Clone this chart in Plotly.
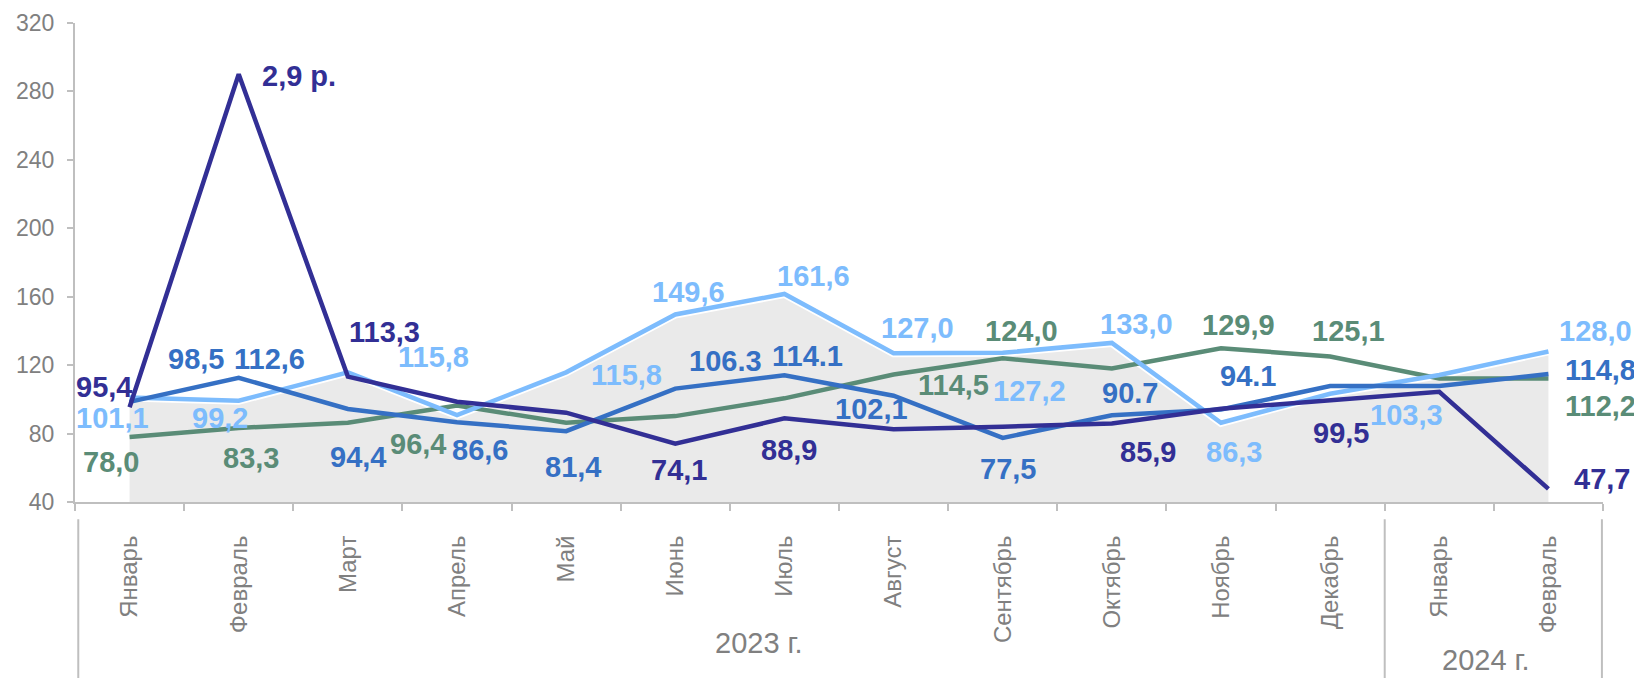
import plotly.graph_objects as go

# ---------------- data ----------------
months = ["Январь", "Февраль", "Март", "Апрель", "Май", "Июнь", "Июль", "Август",
          "Сентябрь", "Октябрь", "Ноябрь", "Декабрь", "Январь", "Февраль"]
year_groups = ["2023 г."] * 12 + ["2024 г."] * 2

navy_vals = [95.4, 290.0, 113.3, 98.6, 92.2, 74.1, 88.9, 82.5, 84.0, 85.9, 94.5, 99.5, 104.4, 47.7]
blue_vals = [98.5, 112.6, 94.4, 86.6, 81.4, 106.3, 114.1, 102.1, 77.5, 90.7, 94.1, 107.8, 107.8, 114.8]
light_vals = [101.1, 99.2, 115.8, 90.8, 115.8, 149.6, 161.6, 127.0, 127.2, 133.0, 86.3, 103.3, 114.2, 128.0]
green_vals = [78.0, 83.3, 86.3, 96.4, 86.3, 90.2, 100.6, 114.5, 124.0, 118.1, 129.9, 125.1, 112.2, 112.2]

navy_labels = ["95,4", "2,9 р.", "113,3", None, None, "74,1", "88,9", None, None, "85,9", None, "99,5", None, "47,7"]
blue_labels = ["98,5", "112,6", "94,4", "86,6", "81,4", "106.3", "114.1", "102,1", "77,5", "90.7", "94.1", None, None, "114,8"]
light_labels = ["101,1", "99,2", "115,8", None, "115,8", "149,6", "161,6", "127,0", "127,2", "133,0", "86,3", "103,3", None, "128,0"]
green_labels = ["78,0", "83,3", None, "96,4", None, None, None, "114,5", "124,0", None, "129,9", "125,1", None, "112,2"]

y_ticks = [40, 80, 120, 160, 200, 240, 280, 320]

# ---------------- label offsets (pixels: right, up) ----------------
navy_off = [(-26, 20), (60, -2), (37, 45), None, None, (4, -26), (5, -32), None, None, (36, -29), None, (11, -33), None, (54, 10)]
blue_off = [(66, 43), (31, 19), (10, -48), (23, -28), (7, -36), (50, 28), (23, 19), (-22, -13), (5, -31), (18, 22), (27, 33), None, None, (52, 4)]
light_off = [(-17, -21), (-19, -17), (86, 15), None, (60, -3), (13, 23), (29, 18), (24, 25), (27, -38), (25, 19), (13, -29), (76, -21), None, (47, 20)]
green_off = [(-19, -25), (12, -30), None, (-39, -38), None, None, None, (60, -10), (19, 27), None, (17, 23), (18, 25), None, (52, -28)]

NAVY = "#322F95"
BLUE = "#3570C4"
LIGHT = "#7DBCFD"
GREEN = "#5A8C77"
AREA = "#EAEAEA"
AXIS = "#BFBFBF"
TXT = "#808080"
FONT = "Liberation Sans, Arial, sans-serif"

x = list(range(len(months)))

fig = go.Figure()

# grey area behind the lines
fig.add_trace(go.Scatter(x=x, y=light_vals, mode="lines", fill="tozeroy",
                         fillcolor=AREA, line=dict(color="white", width=8),
                         hoverinfo="skip", showlegend=False))

series = [
    (green_vals, GREEN, green_labels, green_off),
    (light_vals, LIGHT, light_labels, light_off),
    (blue_vals, BLUE, blue_labels, blue_off),
    (navy_vals, NAVY, navy_labels, navy_off),
]

for vals, col, labs, offs in series:
    fig.add_trace(go.Scatter(x=x, y=vals, mode="lines",
                             line=dict(color=col, width=4.5),
                             showlegend=False))

annotations = []
for vals, col, labs, offs in series:
    for i, (v, lab, off) in enumerate(zip(vals, labs, offs)):
        if lab is None:
            continue
        annotations.append(dict(
            x=i, y=v, xref="x", yref="y", text=lab, showarrow=False,
            xanchor="center", yanchor="middle", xshift=off[0], yshift=off[1],
            font=dict(family=FONT, size=29, color=col, weight="bold")))

# year group labels
groups = []
for g in year_groups:
    if g not in groups:
        groups.append(g)
group_shift = {"2023 г.": (29, -0.294), "2024 г.": (-8, -0.330)}
for g in groups:
    idx = [i for i, yg in enumerate(year_groups) if yg == g]
    cx = sum(idx) / len(idx)
    annotations.append(dict(
        x=cx, y=group_shift[g][1], xref="x", yref="paper", text=g, showarrow=False,
        xanchor="center", yanchor="middle", xshift=group_shift[g][0],
        font=dict(family=FONT, size=29, color=TXT)))

# group separators
shapes = []
first_2024 = year_groups.index("2024 г.")
for sx in [-0.47, first_2024 - 0.5, len(months) - 0.51]:
    shapes.append(dict(type="line", xref="x", yref="paper", x0=sx, x1=sx,
                       y0=-0.036, y1=-0.4, line=dict(color=AXIS, width=2)))

# page body has an 8px margin: the figure is sized/margined to compensate
fig.update_layout(
    width=1634, height=670,
    margin=dict(l=67, r=39, t=15, b=176),
    paper_bgcolor="white", plot_bgcolor="white",
    annotations=annotations, shapes=shapes,
    showlegend=False,
)

fig.update_xaxes(
    range=[-0.5, len(months) - 0.5], automargin=False,
    tickmode="array", tickvals=x, ticktext=months, tickangle=-90,
    ticks="", ticklabelstandoff=22,
    tickfont=dict(family=FONT, size=24, color=TXT),
    showline=True, linecolor=AXIS, linewidth=2,
    showgrid=False, zeroline=False,
    minor=dict(tickmode="array", tickvals=[k - 0.5 for k in range(len(months) + 1)],
               ticks="outside", ticklen=7, tickcolor=AXIS, tickwidth=2, showgrid=False),
)

fig.update_yaxes(
    range=[40, 320], tickmode="array", tickvals=y_ticks, automargin=False,
    ticks="outside", ticklen=6, tickcolor=AXIS, tickwidth=2,
    ticklabelstandoff=8,
    tickfont=dict(family=FONT, size=23, color=TXT),
    showline=True, linecolor=AXIS, linewidth=2,
    showgrid=False, zeroline=False,
)

fig.write_html("out.html")
